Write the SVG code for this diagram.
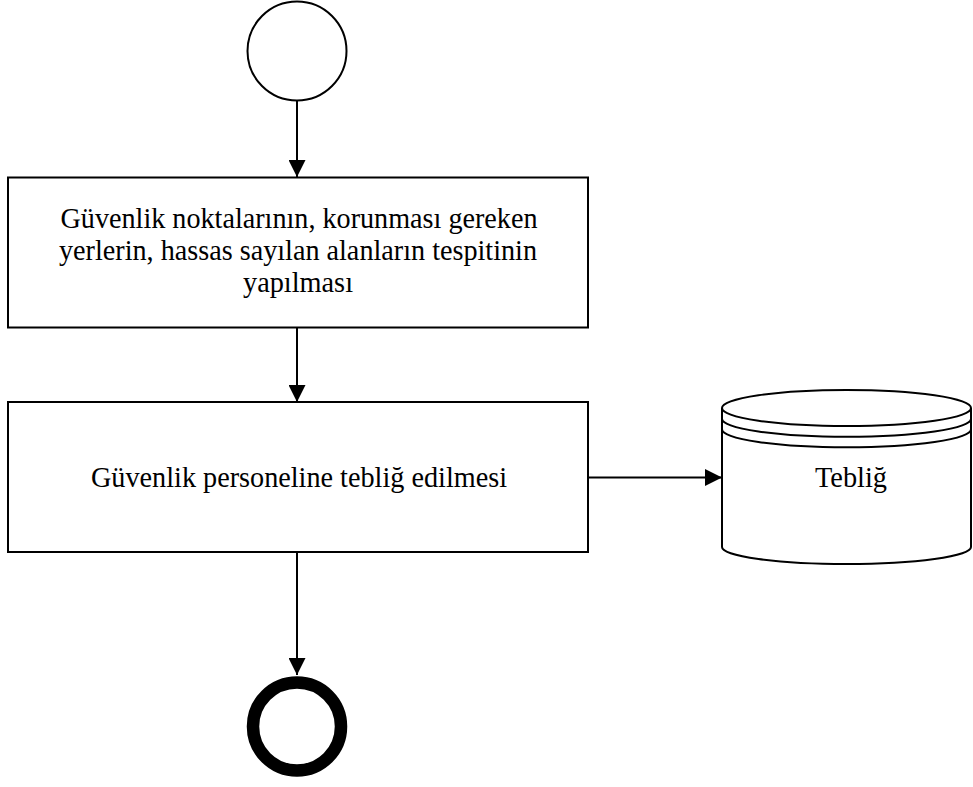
<svg xmlns="http://www.w3.org/2000/svg" width="973" height="787" viewBox="0 0 973 787">
  <style>
    .shape { fill: #ffffff; stroke: #000000; stroke-width: 2; }
    .label { font-family: "Liberation Serif", "Times New Roman", serif; font-size: 29px; fill: #000000; text-anchor: middle; }
    .flow { fill: none; stroke: #000000; stroke-width: 2; }
  </style>
  <defs>
    <marker id="arrow" viewBox="0 0 17 17" refX="17" refY="8.5" markerWidth="17" markerHeight="17" markerUnits="userSpaceOnUse" orient="auto">
      <path d="M0,0 L17,8.5 L0,17 Z" fill="#000000"/>
    </marker>
  </defs>
  <rect width="973" height="787" fill="#ffffff"/>

  <!-- Connectors -->
  <g id="connectors">
    <line class="flow" x1="297" y1="101" x2="297" y2="177" marker-end="url(#arrow)"/>
    <line class="flow" x1="297" y1="327.5" x2="297" y2="402" marker-end="url(#arrow)"/>
    <line class="flow" x1="588" y1="477.5" x2="722" y2="477.5" marker-end="url(#arrow)"/>
    <line class="flow" x1="297" y1="552" x2="297" y2="675" marker-end="url(#arrow)"/>
  </g>

  <!-- Start event -->
  <g id="start">
    <circle class="shape" cx="297" cy="51" r="49.5"/>
  </g>

  <!-- Task 1 -->
  <g id="task-tespit">
    <rect class="shape" x="8" y="177.5" width="580" height="150"/>
    <text class="label" x="299" y="228" textLength="477" lengthAdjust="spacingAndGlyphs">Güvenlik noktalarının, korunması gereken</text>
    <text class="label" x="298" y="260" textLength="478" lengthAdjust="spacingAndGlyphs">yerlerin, hassas sayılan alanların tespitinin</text>
    <text class="label" x="298" y="292" textLength="110" lengthAdjust="spacingAndGlyphs">yapılması</text>
  </g>

  <!-- Task 2 -->
  <g id="task-teblig">
    <rect class="shape" x="8" y="402" width="580" height="150"/>
    <text class="label" x="299" y="487" textLength="416" lengthAdjust="spacingAndGlyphs">Güvenlik personeline tebliğ edilmesi</text>
  </g>

  <!-- Data store -->
  <g id="store-teblig">
    <path class="shape" d="M722,408 L722,547 A124.5,17 0 0 0 971,547 L971,408 A124.5,18 0 0 0 722,408 Z"/>
    <path class="flow" d="M722,408 A124.5,18 0 0 0 971,408"/>
    <path class="flow" d="M722,418.7 A124.5,18 0 0 0 971,418.7"/>
    <path class="flow" d="M722,429.3 A124.5,18 0 0 0 971,429.3"/>
    <text class="label" x="851" y="487" textLength="72" lengthAdjust="spacingAndGlyphs">Tebliğ</text>
  </g>

  <!-- End event -->
  <g id="end">
    <circle cx="297" cy="726.5" r="44" fill="#ffffff" stroke="#000000" stroke-width="12.5"/>
  </g>
</svg>
